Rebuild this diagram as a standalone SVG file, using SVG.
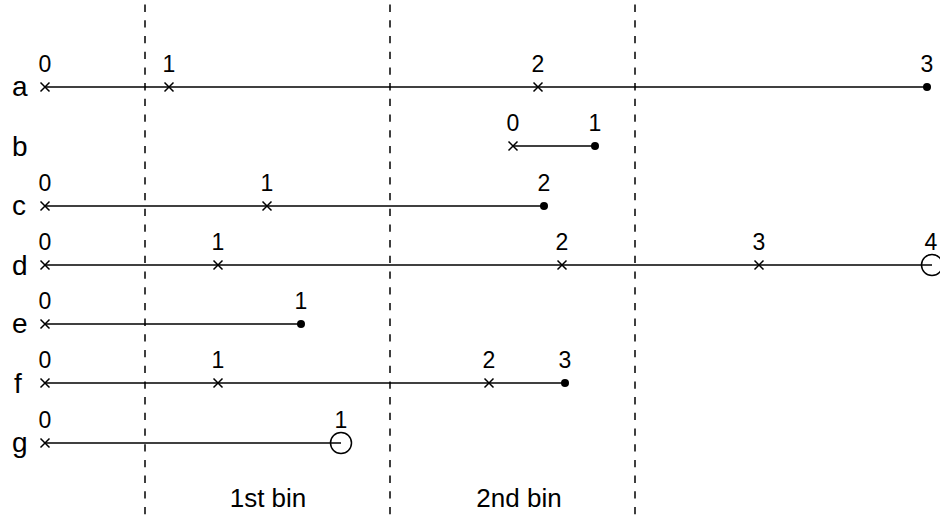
<svg xmlns="http://www.w3.org/2000/svg" width="940" height="520" viewBox="0 0 940 520">
<defs>
<style>
.bin{stroke:#000;stroke-width:1.5;stroke-dasharray:7.3 8.4;fill:none}
.ln{stroke:#000;stroke-width:1.5;fill:none}
.x{stroke:#000;stroke-width:1.5;fill:none}
.dot{fill:#000}
.circ{stroke:#000;stroke-width:1.5;fill:none}
.num{font-family:"Liberation Sans",Arial,sans-serif;font-size:23px;text-anchor:middle;fill:#000}
.row{font-family:"Liberation Sans",Arial,sans-serif;font-size:28px;fill:#000}
.lbl{font-family:"Liberation Sans",Arial,sans-serif;font-size:26px;text-anchor:middle;fill:#000}
</style>
<path id="cross" d="M-4.5,-4.5L4.5,4.5M-4.5,4.5L4.5,-4.5" class="x"/>
</defs>
<rect width="940" height="520" fill="#fff"/>
<g id="bins">
<line class="bin" x1="145" y1="4.6" x2="145" y2="520"/>
<line class="bin" x1="390" y1="4.6" x2="390" y2="520"/>
<line class="bin" x1="635" y1="4.6" x2="635" y2="520"/>
<text class="lbl" x="268" y="507">1st bin</text>
<text class="lbl" x="519" y="507">2nd bin</text>
</g>
<g id="connectors">
<line class="ln" x1="45" y1="87" x2="927" y2="87"/>
<line class="ln" x1="513" y1="146" x2="595" y2="146"/>
<line class="ln" x1="45" y1="206" x2="544" y2="206"/>
<line class="ln" x1="45" y1="265" x2="932" y2="265"/>
<line class="ln" x1="45" y1="324" x2="301" y2="324"/>
<line class="ln" x1="45" y1="383" x2="565" y2="383"/>
<line class="ln" x1="45" y1="443" x2="341" y2="443"/>
</g>
<g id="a">
<text class="row" x="12" y="96">a</text>
<use href="#cross" x="45" y="87"/><use href="#cross" x="169" y="87"/><use href="#cross" x="538" y="87"/>
<circle class="dot" cx="927" cy="87" r="4"/>
<text class="num" x="45" y="72">0</text><text class="num" x="169" y="72">1</text><text class="num" x="538" y="72">2</text><text class="num" x="927" y="72">3</text>
</g>
<g id="b">
<text class="row" x="12" y="156">b</text>
<use href="#cross" x="513" y="146"/>
<circle class="dot" cx="595" cy="146" r="4"/>
<text class="num" x="513" y="131">0</text><text class="num" x="595" y="131">1</text>
</g>
<g id="c">
<text class="row" x="12" y="215">c</text>
<use href="#cross" x="45" y="206"/><use href="#cross" x="267" y="206"/>
<circle class="dot" cx="544" cy="206" r="4"/>
<text class="num" x="45" y="191">0</text><text class="num" x="267" y="191">1</text><text class="num" x="544" y="191">2</text>
</g>
<g id="d">
<text class="row" x="12" y="275">d</text>
<use href="#cross" x="45" y="265"/><use href="#cross" x="218" y="265"/><use href="#cross" x="562" y="265"/><use href="#cross" x="759" y="265"/>
<circle class="circ" cx="932" cy="265" r="10.5"/>
<text class="num" x="45" y="250">0</text><text class="num" x="218" y="250">1</text><text class="num" x="562" y="250">2</text><text class="num" x="759" y="250">3</text><text class="num" x="931" y="250">4</text>
</g>
<g id="e">
<text class="row" x="12" y="333">e</text>
<use href="#cross" x="45" y="324"/>
<circle class="dot" cx="301" cy="324" r="4"/>
<text class="num" x="45" y="309">0</text><text class="num" x="301" y="309">1</text>
</g>
<g id="f">
<text class="row" x="14" y="393">f</text>
<use href="#cross" x="45" y="383"/><use href="#cross" x="218" y="383"/><use href="#cross" x="489" y="383"/>
<circle class="dot" cx="565" cy="383" r="4"/>
<text class="num" x="45" y="368">0</text><text class="num" x="218" y="368">1</text><text class="num" x="489" y="368">2</text><text class="num" x="565" y="368">3</text>
</g>
<g id="g">
<text class="row" x="12" y="452">g</text>
<use href="#cross" x="45" y="443"/>
<circle class="circ" cx="341" cy="443" r="10.5"/>
<text class="num" x="45" y="428">0</text><text class="num" x="341" y="428">1</text>
</g>
</svg>
